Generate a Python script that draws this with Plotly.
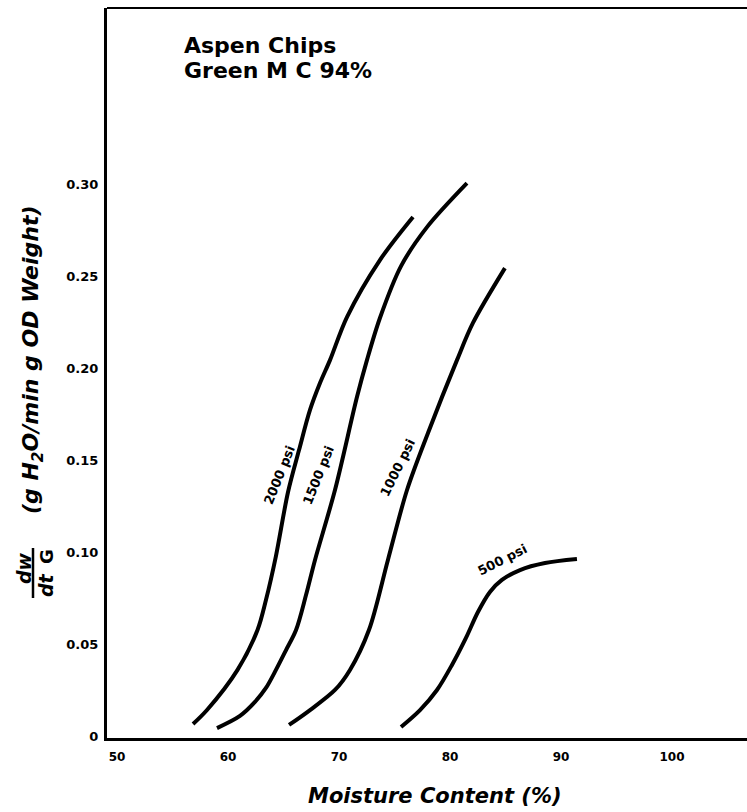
import plotly.graph_objects as go

# ---- data ----
mc_2000 = [56.85, 58.11, 60.86, 62.66, 63.42, 64.32, 65.41, 66.40, 67.39, 68.29, 69.19, 70.72, 73.69, 76.67]
rate_2000 = [0.0065, 0.0141, 0.0359, 0.0576, 0.0739, 0.0978, 0.1326, 0.1554, 0.1772, 0.1918, 0.2043, 0.2277, 0.2587, 0.2821]

mc_1500 = [59.01, 61.08, 62.43, 63.42, 64.32, 65.23, 66.13, 67.03, 67.84, 69.64, 71.62, 72.52, 73.69, 75.59, 77.93, 81.53]
rate_1500 = [0.0043, 0.0109, 0.0185, 0.0261, 0.0359, 0.0467, 0.0576, 0.0766, 0.0957, 0.1337, 0.1842, 0.2043, 0.2272, 0.2554, 0.2766, 0.3005]

mc_1000 = [65.50, 67.39, 69.64, 70.99, 72.70, 74.41, 76.13, 78.02, 80.63, 82.07, 84.95]
rate_1000 = [0.0060, 0.0141, 0.0250, 0.0359, 0.0576, 0.0957, 0.1337, 0.1647, 0.2043, 0.2245, 0.2543]

mc_500 = [75.59, 77.30, 78.83, 80.18, 81.44, 82.52, 83.60, 84.68, 86.31, 88.56, 91.44]
rate_500 = [0.0049, 0.0141, 0.0250, 0.0386, 0.0533, 0.0674, 0.0783, 0.0848, 0.0902, 0.0940, 0.0962]

x_ticks = [50, 60, 70, 80, 90, 100]
y_ticks = [0, 0.05, 0.10, 0.15, 0.20, 0.25, 0.30]
y_tick_text = ["0", "0.05", "0.10", "0.15", "0.20", "0.25", "0.30"]

curve_labels = ["2000 psi", "1500 psi", "1000 psi", "500 psi"]
label_x = [64.59, 68.11, 75.32, 84.77]
label_y = [0.1418, 0.1418, 0.1457, 0.0957]
label_angle = [-68, -68, -64, -27]

FONT = "DejaVu Sans"

fig = go.Figure()
for xs, ys in [(mc_2000, rate_2000), (mc_1500, rate_1500), (mc_1000, rate_1000), (mc_500, rate_500)]:
    fig.add_trace(go.Scatter(x=xs, y=ys, mode="lines",
                             line=dict(color="black", width=4, shape="spline", smoothing=0.9),
                             showlegend=False, hoverinfo="skip"))

annotations = []
for t, lx, ly, ang in zip(curve_labels, label_x, label_y, label_angle):
    annotations.append(dict(x=lx, y=ly, xref="x", yref="y", text="<b>" + t + "</b>",
                            textangle=ang, showarrow=False, xanchor="center", yanchor="middle",
                            font=dict(family=FONT, size=13, color="black")))

annotations += [
    dict(x=55.86, y=0.3755, xref="x", yref="y", text="<b>Aspen Chips</b>", xanchor="left",
         yanchor="middle", showarrow=False, font=dict(family=FONT, size=22, color="black")),
    dict(x=55.86, y=0.3617, xref="x", yref="y", text="<b>Green M C 94%</b>", xanchor="left",
         yanchor="middle", showarrow=False, font=dict(family=FONT, size=22, color="black")),
]

fig.update_layout(
    width=747, height=812,
    margin=dict(l=107, r=0, t=8, b=74),
    paper_bgcolor="white", plot_bgcolor="white",
    font=dict(family=FONT, color="black"),
    xaxis=dict(range=[49.1, 106.76], tickvals=x_ticks, ticktext=[str(v) for v in x_ticks],
               showgrid=False, zeroline=False, showline=True, linecolor="black", linewidth=3,
               ticks="", ticklabelstandoff=6,
               tickfont=dict(family=FONT, size=12, color="black", weight="bold")),
    yaxis=dict(range=[-0.0011, 0.3957], tickvals=y_ticks, ticktext=y_tick_text,
               showgrid=False, zeroline=False, showline=True, linecolor="black", linewidth=3,
               ticks="", ticklabelstandoff=3,
               tickfont=dict(family=FONT, size=13, color="black", weight="bold")),
    annotations=annotations,
)

# axis-title pieces placed in paper coordinates (margins)
def px(xp):
    return (xp - 107) / 640.0
def py(yp):
    return (738 - yp) / 730.0

def side_text(xp, yp, text, size, angle=-90):
    fig.add_annotation(x=px(xp), y=py(yp), xref="paper", yref="paper",
                       xanchor="center", yanchor="middle",
                       text=text, textangle=angle, showarrow=False,
                       font=dict(family=FONT, size=size, color="black"))

side_text(435, 796, "<b><i>Moisture Content (%)</i></b>", 21, angle=0)
side_text(32, 360, "<b><i>(g H<sub>2</sub>O/min g OD Weight)</i></b>", 22)
side_text(24, 568, "<b><i>dw</i></b>", 19)
side_text(46, 585, "<b><i>dt</i></b>", 19)
side_text(46, 557, "<b>G</b>", 18)

fig.add_shape(type="line", xref="paper", yref="paper",
              x0=px(33), x1=px(33), y0=py(548), y1=py(598),
              line=dict(color="black", width=2.5))
# top frame line
fig.add_shape(type="line", xref="paper", yref="paper", x0=0, x1=1, y0=1, y1=1,
              line=dict(color="black", width=2))

fig.write_html("out.html")
